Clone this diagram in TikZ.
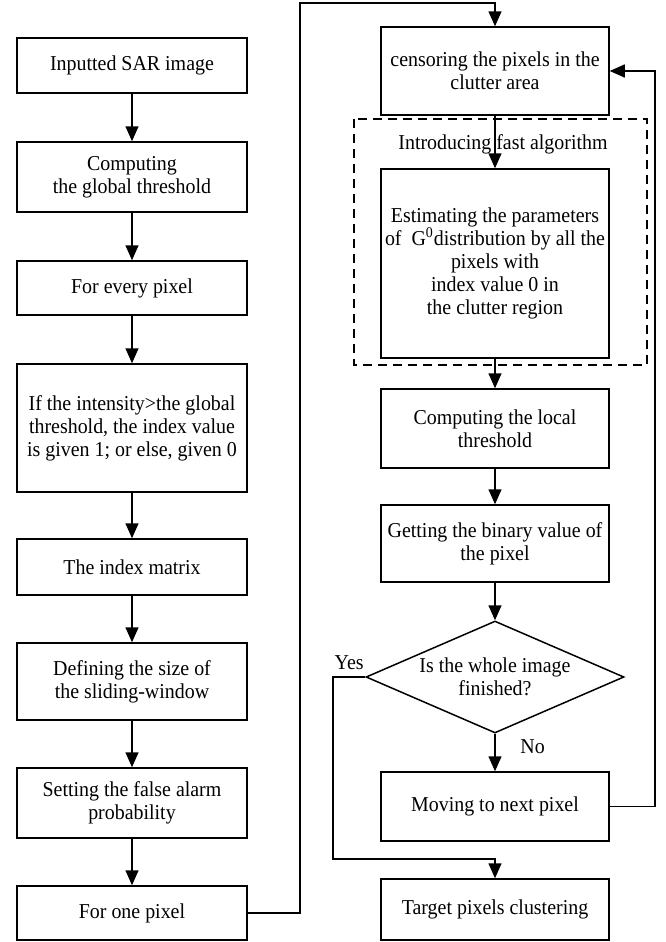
\documentclass[tikz,border=0pt]{standalone}
\usepackage{fontspec}
\setmainfont[FakeStretch=0.94]{Liberation Serif}
\usetikzlibrary{arrows.meta,positioning,shapes.geometric}

\begin{document}
\begin{tikzpicture}[x=0.5pt,y=-0.5pt,->,>={Triangle[length=7.5pt,width=6.5pt]},
                    line width=0.75pt,font=\fontsize{10.6}{11.5}\selectfont,
                    proc/.style={draw,rectangle,align=center,inner sep=2pt,
                                 minimum width=115pt},
                    procr/.style={proc,minimum width=114pt},
                    decision/.style={draw,diamond,aspect=2.3,align=center,
                                     inner sep=0pt,minimum width=129pt,minimum height=56pt}]

        \useasboundingbox (0,0) rectangle (665,942);

        % left column
        \node[proc,minimum height=27.5pt] (in)    at (132,65.5)  {Inputted SAR image};
        \node[proc,minimum height=35pt]   (glob)  at (132,177)   {Computing\\the global threshold};
        \node[proc,minimum height=27pt]   (every) at (132,288)   {For every pixel};
        \node[proc,minimum height=64pt]   (ifint) at (132,428)
              {If the intensity>the global\\threshold, the index value\\is given 1; or else, given 0};
        \node[proc,minimum height=28pt]   (idx)   at (132,567)   {The index matrix};
        \node[proc,minimum height=38.5pt] (win)   at (132,681.5) {Defining the size of\\the sliding-window};
        \node[proc,minimum height=35pt]   (pfa)   at (132,803)   {Setting the false alarm\\probability};
        \node[proc,minimum height=27pt]   (one)   at (132,913)   {For one pixel};

        % right column
        \node[procr,minimum height=44pt]   (cens) at (495,71)    {censoring the pixels in the\\clutter area};
        \node[procr,minimum height=94.5pt] (est)  at (495,263.5)
              {Estimating the parameters\\of\ \ G\textsuperscript{0}distribution by all the\\pixels with\\index value 0 in\\the clutter region};
        \node[procr,minimum height=39.5pt] (loc)  at (495,428.5) {Computing the local\\threshold};
        \node[procr,minimum height=38.5pt] (bin)  at (495,543.5) {Getting the binary value of\\the pixel};
        \node[decision]                    (dia)  at (495,677)   {Is the whole image\\finished?};
        \node[procr,minimum height=34.5pt] (mov)  at (495,806.5) {Moving to next pixel};
        \node[procr,minimum height=30.5pt] (tgt)  at (495,909.5) {Target pixels clustering};

        % fast algorithm frame
        \draw[-,dash pattern=on 4.5pt off 3pt] (354,119) rectangle (647,365);
        \node[anchor=base] (fast) at (503,149) {Introducing fast algorithm};

        \coordinate (yturn) at (333,859);
        \coordinate (ybend) at (495,859);

        \path (in)    edge (glob)
              (glob)  edge (every)
              (every) edge (ifint)
              (ifint) edge (idx)
              (idx)   edge (win)
              (win)   edge (pfa)
              (pfa)   edge (one)
              (cens)  edge (est)
              (est)   edge (loc)
              (loc)   edge (bin)
              (bin)   edge (dia);

        \draw (one.east) -| (300,3) -| (cens.north);
        \draw (dia.south) -- node[pos=0.35,anchor=west,xshift=9pt] {No} (mov.north);
        \draw (mov.east) -| (655,71) -- (cens.east);
        \draw (dia.west) -- node[above,pos=0.5] {Yes} (dia.west -| yturn) -- (yturn) -- (ybend) -- (tgt.north);
      \end{tikzpicture}
\end{document}
